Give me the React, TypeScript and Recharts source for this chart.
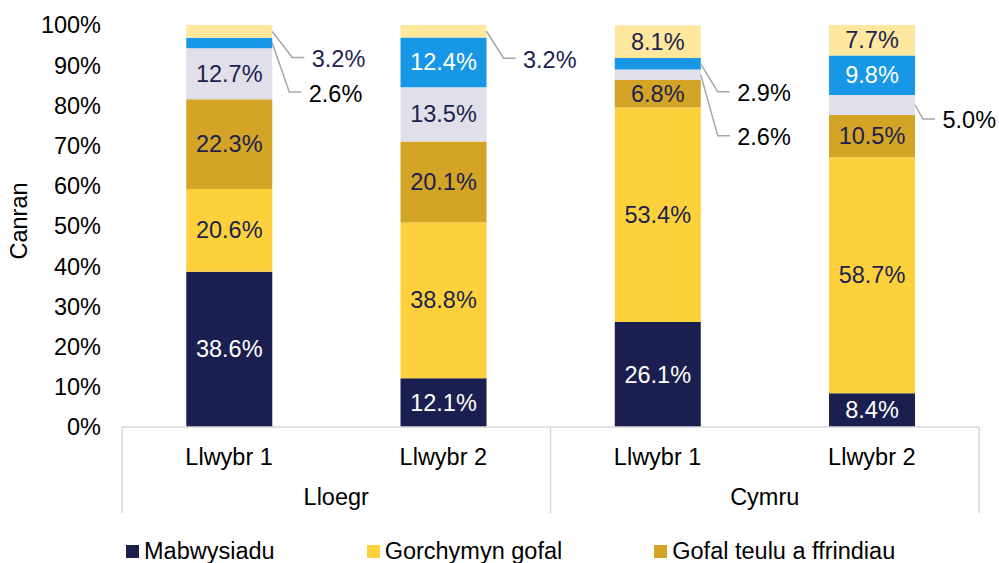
import { Bar, BarChart, Label, LabelList, Legend, XAxis, YAxis } from "recharts";

const routes = ["Llwybr 1", "Llwybr 2", "Llwybr 1", "Llwybr 2"];
const countries = ["Lloegr", "Lloegr", "Cymru", "Cymru"];

const mabwysiadu = [38.6, 12.1, 26.1, 8.4];
const gorchymynGofal = [20.6, 38.8, 53.4, 58.7];
const gofalTeulu = [22.3, 20.1, 6.8, 10.5];
// the last three series are named in a legend row that is cut off in the source
const seriesGrey = [12.7, 13.5, 2.6, 5.0];
const seriesBlue = [2.6, 12.4, 2.9, 9.8];
const seriesPale = [3.2, 3.2, 8.1, 7.7];

const yTicks = [0, 10, 20, 30, 40, 50, 60, 70, 80, 90, 100];

const data = routes.map((route, i) => ({
  route,
  country: countries[i],
  mabwysiadu: mabwysiadu[i],
  gorchymyn: gorchymynGofal[i],
  teulu: gofalTeulu[i],
  grey: seriesGrey[i],
  blue: seriesBlue[i],
  pale: seriesPale[i],
}));

const FONT = '"Liberation Sans", Arial, sans-serif';
const FS = 23.5;
const NAVY = "#1b1f4f";

const series = [
  { key: "mabwysiadu", name: "Mabwysiadu", color: NAVY, text: "#ffffff", legend: true },
  { key: "gorchymyn", name: "Gorchymyn gofal", color: "#fdd13b", text: NAVY, legend: true },
  { key: "teulu", name: "Gofal teulu a ffrindiau", color: "#d4a426", text: NAVY, legend: true },
  { key: "grey", name: "grey", color: "#e1e0ea", text: NAVY, legend: false },
  { key: "blue", name: "blue", color: "#1897e6", text: "#ffffff", legend: false },
  { key: "pale", name: "pale", color: "#ffe79e", text: NAVY, legend: false },
];

// labels that Excel moved outside the bar, with a leader line
const outside: Record<string, { dy: number; elbow: number; color: string }> = {
  "pale-0": { dy: 26, elbow: 20, color: NAVY },
  "blue-0": { dy: 49, elbow: 17, color: "#000" },
  "pale-1": { dy: 27, elbow: 17, color: NAVY },
  "blue-2": { dy: 28, elbow: 17, color: "#000" },
  "grey-2": { dy: 61, elbow: 17, color: "#000" },
  "grey-3": { dy: 14, elbow: 8, color: "#000" },
};

function makeLabel(key: string, fill: string) {
  return (props: any) => {
    const x = Number(props.x);
    const w = Number(props.width);
    const h = Number(props.height);
    const top = Math.min(Number(props.y), Number(props.y) + h);
    const midY = top + Math.abs(h) / 2;
    const text = `${Number(props.value).toFixed(1)}%`;
    const o = outside[`${key}-${props.index}`];
    if (o) {
      const sx = x + w;
      const ex = sx + o.elbow;
      const ey = midY + o.dy;
      return (
        <g>
          <polyline
            points={`${sx},${midY} ${ex},${ey} ${ex + 12},${ey}`}
            fill="none"
            stroke="#a6a6a6"
            strokeWidth={1.5}
          />
          <text x={ex + 19.5} y={ey + 1.5} fill={o.color} fontSize={FS} dominantBaseline="central">
            {text}
          </text>
        </g>
      );
    }
    return (
      <text
        x={x + w / 2}
        y={midY}
        fill={fill}
        fontSize={FS}
        textAnchor="middle"
        dominantBaseline="central"
      >
        {text}
      </text>
    );
  };
}

function CategoryTick(props: any) {
  const { x, y, payload, index } = props;
  const half = payload.offset ?? 107;
  const country = countries[index];
  const first = index === 0 || countries[index - 1] !== country;
  const last = index === countries.length - 1;
  const count = countries.filter((c) => c === country).length;
  return (
    <g>
      <text x={x} y={y + 30} textAnchor="middle" dominantBaseline="central" fill="#000" fontSize={FS}>
        {payload.value}
      </text>
      {first && (
        <>
          <line x1={x - half} x2={x - half} y1={y} y2={y + 86} stroke="#d9d9d9" strokeWidth={1.5} />
          <text
            x={x - half + count * half}
            y={y + 70}
            textAnchor="middle"
            dominantBaseline="central"
            fill="#000"
            fontSize={FS}
          >
            {country}
          </text>
        </>
      )}
      {last && (
        <line x1={x + half} x2={x + half} y1={y} y2={y + 86} stroke="#d9d9d9" strokeWidth={1.5} />
      )}
    </g>
  );
}

function LegendContent({ payload }: any) {
  const order = (p: any) => series.findIndex((s) => s.name === p.value);
  const items = (payload || [])
    .filter((p: any) => p.type !== "none")
    .sort((a: any, b: any) => order(a) - order(b));
  return (
    <div
      style={{
        display: "flex",
        alignItems: "center",
        height: 36,
        paddingLeft: 126,
        fontFamily: FONT,
        fontSize: FS,
        color: "#000",
        whiteSpace: "nowrap",
      }}
    >
      {items.map((it: any) => (
        <span key={it.value} style={{ display: "flex", alignItems: "center", marginRight: 92 }}>
          <span style={{ width: 13, height: 13, background: it.color, marginRight: 5 }} />
          {it.value}
        </span>
      ))}
    </div>
  );
}

export default function App() {
  return (
    <div
      style={{
        position: "absolute",
        left: 0,
        top: 0,
        width: 999,
        height: 563,
        overflow: "hidden",
        background: "#fff",
        fontFamily: FONT,
      }}
    >
      <BarChart
        width={999}
        height={600}
        data={data}
        margin={{ top: 25, right: 20, left: 0, bottom: 31 }}
        barCategoryGap="30%"
      >
        <XAxis
          dataKey="route"
          height={106}
          axisLine={{ stroke: "#d9d9d9", strokeWidth: 1.5 }}
          tickLine={false}
          tickSize={0}
          tickMargin={0}
          tick={<CategoryTick />}
          interval={0}
        />
        <YAxis
          width={122}
          domain={[0, 100]}
          ticks={yTicks}
          allowDataOverflow
          axisLine={false}
          tickLine={false}
          tickSize={0}
          tickMargin={21}
          tickFormatter={(v) => `${v}%`}
          tick={{ fontSize: FS, fill: "#000" }}
        >
          <Label
            content={({ viewBox }: any) => {
              const cy = viewBox.y + viewBox.height / 2 - 5;
              return (
                <text
                  transform={`translate(18.5, ${cy}) rotate(-90)`}
                  textAnchor="middle"
                  dominantBaseline="central"
                  fontSize={FS}
                  fill="#000"
                >
                  Canran
                </text>
              );
            }}
          />
        </YAxis>
        <Legend verticalAlign="bottom" content={<LegendContent />} />
        {series.map((s) => (
          <Bar
            key={s.key}
            dataKey={s.key}
            name={s.name}
            stackId="a"
            fill={s.color}
            legendType={s.legend ? "square" : "none"}
            isAnimationActive={false}
          >
            <LabelList dataKey={s.key} content={makeLabel(s.key, s.text)} />
          </Bar>
        ))}
      </BarChart>
    </div>
  );
}
